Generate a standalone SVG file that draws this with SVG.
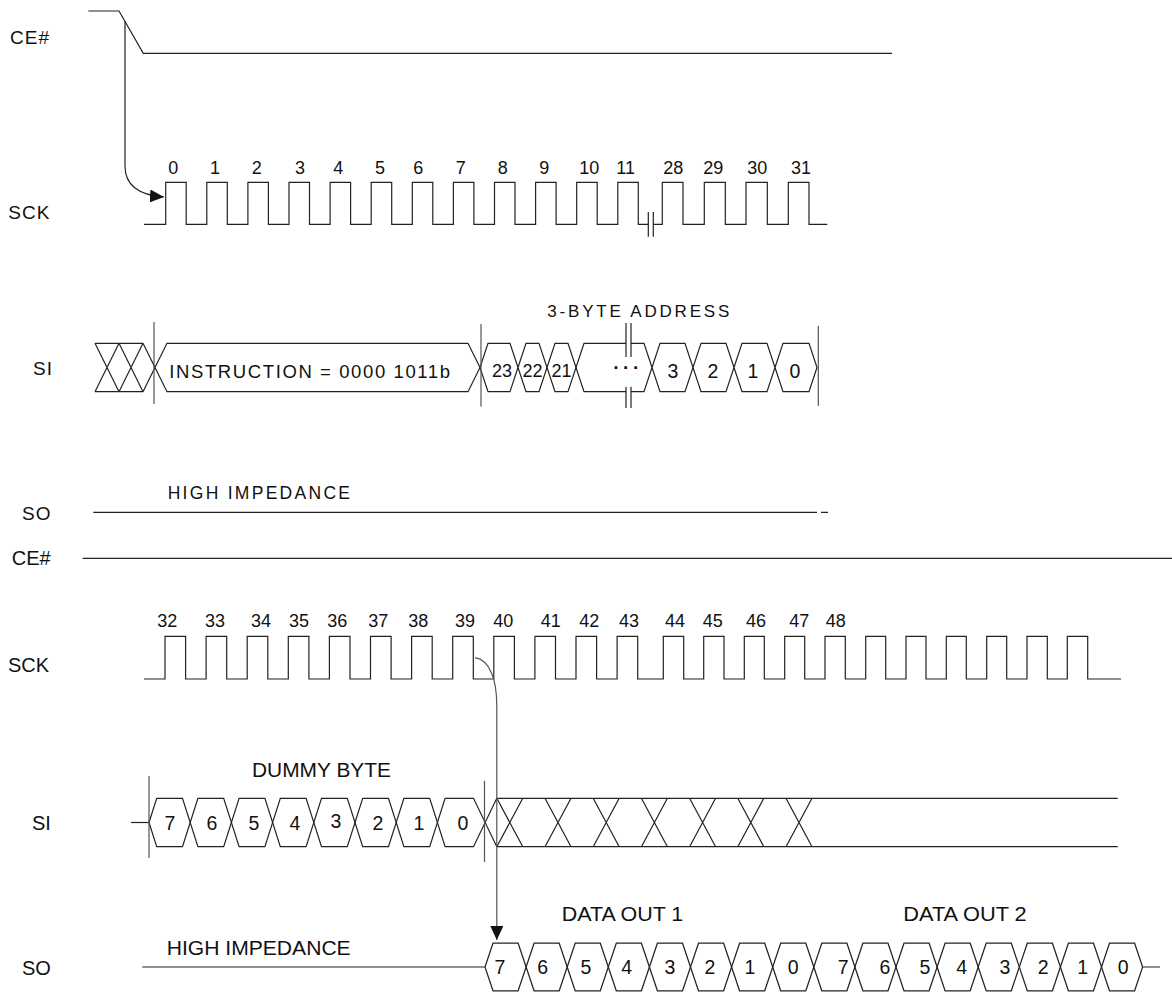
<svg xmlns="http://www.w3.org/2000/svg" width="1172" height="992" viewBox="0 0 1172 992">
<style>
.w{fill:none;stroke:#222;stroke-width:1.2}
.d{fill:none;stroke:#555;stroke-width:1.2}
.h{fill:#fff;stroke:#222;stroke-width:1.2}
text{font-family:"Liberation Sans",Arial,sans-serif;fill:#111}
.lt{font-size:19px;letter-spacing:1px}
.lb{font-size:20px}
.n{font-size:18px;text-anchor:middle}
.v{font-size:19.5px;text-anchor:middle}
.v2{font-size:18px;text-anchor:middle}
.tb{font-size:20px}
</style>
<defs>
<marker id="ah" viewBox="0 0 14 13" refX="14" refY="6.5" markerWidth="14" markerHeight="13" markerUnits="userSpaceOnUse" orient="auto"><path d="M0,0 L14,6.5 L0,13 Z" fill="#111"/></marker>
</defs>

<g id="ce-top">
<text class="lt" x="10" y="44.3">CE#</text>
<path class="w" d="M88.3,11 H119 L143.3,53.3 H892"/>
</g>

<g id="sck-top">
<text class="lt" x="8.3" y="219">SCK</text>
<path class="w" d="M144,224.3 H165.7 V182.3 H186.2 V224.3 H206.8 V182.3 H227.3 V224.3 H247.9 V182.3 H268.4 V224.3 H289 V182.3 H309.5 V224.3 H330.1 V182.3 H350.6 V224.3 H371.2 V182.3 H391.7 V224.3 H412.3 V182.3 H432.8 V224.3 H453.4 V182.3 H473.9 V224.3 H494.5 V182.3 H515 V224.3 H535.6 V182.3 H556.1 V224.3 H576.7 V182.3 H597.2 V224.3 H617.8 V182.3 H638.3 V224.3 H648.3 M653.3,224.3 H662.3 V182.3 H683 V224.3 H704.3 V182.3 H725.3 V224.3 H746 V182.3 H767.3 V224.3 H788.3 V182.3 H809 V224.3 H827.3"/>
<path class="w" d="M648.3,212 V236.7 M653.3,212 V236.7"/>
<text class="n" x="173.3" y="173.5">0</text>
<text class="n" x="215" y="173.5">1</text>
<text class="n" x="256.7" y="173.5">2</text>
<text class="n" x="300" y="173.5">3</text>
<text class="n" x="338.3" y="173.5">4</text>
<text class="n" x="380" y="173.5">5</text>
<text class="n" x="418.3" y="173.5">6</text>
<text class="n" x="460.7" y="173.5">7</text>
<text class="n" x="502.7" y="173.5">8</text>
<text class="n" x="544.3" y="173.5">9</text>
<text class="n" x="589.3" y="173.5">10</text>
<text class="n" x="625.7" y="173.5">11</text>
<text class="n" x="673.3" y="173.5">28</text>
<text class="n" x="713.3" y="173.5">29</text>
<text class="n" x="757.3" y="173.5">30</text>
<text class="n" x="801" y="173.5">31</text>
</g>

<g id="si-top">
<text class="lt" x="33" y="375">SI</text>
<path class="w" d="M95,343.3 H143 M95,391.7 H143 M95,343.3 L119,391.7 M95,391.7 L119,343.3 M119,343.3 L143,391.7 M119,391.7 L143,343.3 M143,343.3 L155,367.5 L143,391.7"/>
<polygon class="h" points="155,367.5 167,343.3 468,343.3 480,367.5 468,391.7 167,391.7"/>
<text x="169.3" y="378" style="font-size:18.5px" textLength="280.7" lengthAdjust="spacing">INSTRUCTION = 0000 1011b</text>
<polygon class="h" points="480,367.5 488,343.3 510,343.3 518,367.5 510,391.7 488,391.7"/>
<polygon class="h" points="518,367.5 526,343.3 539,343.3 547,367.5 539,391.7 526,391.7"/>
<polygon class="h" points="547,367.5 555,343.3 568,343.3 576,367.5 568,391.7 555,391.7"/>
<path class="w" d="M626,343.3 H584 L576,367.5 L584,391.7 H626 M631,343.3 H644 L652,367.5 L644,391.7 H631"/>
<path class="w" d="M626,323 V357 M631,323 V357 M626,386.7 V408 M631,386.7 V408"/>
<polygon class="h" points="652,367.5 660,343.3 685,343.3 693,367.5 685,391.7 660,391.7"/>
<polygon class="h" points="693,367.5 701,343.3 726,343.3 734,367.5 726,391.7 701,391.7"/>
<polygon class="h" points="734,367.5 742,343.3 767,343.3 775,367.5 767,391.7 742,391.7"/>
<polygon class="h" points="775,367.5 783,343.3 809,343.3 817,367.5 809,391.7 783,391.7"/>
<text class="v2" x="502" y="377">23</text>
<text class="v2" x="532.5" y="377">22</text>
<text class="v2" x="561.5" y="377">21</text>
<text x="628" y="374" style="font-size:19px;font-weight:bold;text-anchor:middle;letter-spacing:3.5px">···</text>
<text class="v" x="673" y="377.5">3</text>
<text class="v" x="713" y="377.5">2</text>
<text class="v" x="753" y="377.5">1</text>
<text class="v" x="795" y="377.5">0</text>
<path class="d" d="M154,322 V404 M481,324 V406.7 M818.3,326 V406"/>
<text x="547.3" y="317" style="font-size:17px" textLength="182" lengthAdjust="spacing">3-BYTE ADDRESS</text>
</g>

<g id="so-top">
<text class="lt" x="22" y="520">SO</text>
<text x="167.7" y="499.3" style="font-size:17.5px" textLength="182.3" lengthAdjust="spacing">HIGH IMPEDANCE</text>
<path class="w" d="M93.3,512.3 H817 M821,512.3 H828"/>
</g>

<g id="ce-bottom">
<text class="lb" x="11.7" y="565">CE#</text>
<path class="w" d="M82.7,558.3 H1172"/>
</g>

<g id="sck-bottom">
<text class="lb" x="8" y="672">SCK</text>
<path class="w" d="M144,679 H165 V636.3 H185.6 V679 H206.1 V636.3 H226.7 V679 H247.2 V636.3 H267.8 V679 H288.3 V636.3 H308.9 V679 H329.4 V636.3 H350 V679 H370.5 V636.3 H391.1 V679 H411.6 V636.3 H432.2 V679 H452.7 V636.3 H473.3 V679 H493.8 V636.3 H514.4 V679 H534.9 V636.3 H555.5 V679 H576 V636.3 H596.6 V679 H617.1 V636.3 H637.7 V679 H663.3 V636.3 H683.7 V679 H703.7 V636.3 H724 V679 H744.3 V636.3 H764.3 V679 H784.7 V636.3 H804.7 V679 H825 V636.3 H845.3 V679 H865.7 V636.3 H885.7 V679 H906 V636.3 H926 V679 H946.3 V636.3 H966.3 V679 H986.7 V636.3 H1006.7 V679 H1027 V636.3 H1047.3 V679 H1067.3 V636.3 H1087.7 V679 H1121"/>
<text class="n" x="167.3" y="627.3">32</text>
<text class="n" x="215" y="627.3">33</text>
<text class="n" x="261" y="627.3">34</text>
<text class="n" x="299" y="627.3">35</text>
<text class="n" x="337.3" y="627.3">36</text>
<text class="n" x="378.3" y="627.3">37</text>
<text class="n" x="418.3" y="627.3">38</text>
<text class="n" x="465" y="627.3">39</text>
<text class="n" x="503.3" y="627.3">40</text>
<text class="n" x="550.7" y="627.3">41</text>
<text class="n" x="589.3" y="627.3">42</text>
<text class="n" x="629" y="627.3">43</text>
<text class="n" x="675" y="627.3">44</text>
<text class="n" x="712.7" y="627.3">45</text>
<text class="n" x="756" y="627.3">46</text>
<text class="n" x="799.3" y="627.3">47</text>
<text class="n" x="835.7" y="627.3">48</text>
</g>

<g id="si-bottom">
<text class="lb" x="32" y="830">SI</text>
<text x="252" y="777.3" class="tb" textLength="139" lengthAdjust="spacingAndGlyphs">DUMMY BYTE</text>
<path class="w" d="M131,822.5 H149"/>
<path class="w" d="M149,822.5 L156.7,798.3 H182.5 L197.9,846.7 H223.7 L239.1,798.3 H264.9 L280.3,846.7 H306.1 L321.5,798.3 H347.3 L362.7,846.7 H388.5 L403.9,798.3 H429.7 L445.1,846.7 H473.5 L496.8,798.3 H1117.8"/>
<path class="w" d="M149,822.5 L156.7,846.7 H182.5 L197.9,798.3 H223.7 L239.1,846.7 H264.9 L280.3,798.3 H306.1 L321.5,846.7 H347.3 L362.7,798.3 H388.5 L403.9,846.7 H429.7 L445.1,798.3 H473.5 L496.8,846.7 H1117.8"/>
<path class="w" d="M496.8,798.3 L522.8,846.7 M496.8,846.7 L522.8,798.3 M545,798.3 L571,846.7 M545,846.7 L571,798.3 M593.2,798.3 L619.2,846.7 M593.2,846.7 L619.2,798.3 M641.4,798.3 L667.4,846.7 M641.4,846.7 L667.4,798.3 M689.6,798.3 L715.6,846.7 M689.6,846.7 L715.6,798.3 M737.8,798.3 L763.8,846.7 M737.8,846.7 L763.8,798.3 M786,798.3 L812,846.7 M786,846.7 L812,798.3"/>
<path class="d" d="M149,776 V858 M484.5,780.7 V862"/>
<text class="v" x="170" y="829.5">7</text>
<text class="v" x="212" y="829.5">6</text>
<text class="v" x="254" y="829.5">5</text>
<text class="v" x="295" y="829.5">4</text>
<text class="v" x="336" y="828">3</text>
<text class="v" x="378" y="829.5">2</text>
<text class="v" x="419" y="829.5">1</text>
<text class="v" x="463" y="829.5">0</text>
</g>

<g id="so-bottom">
<text class="lb" x="22" y="975">SO</text>
<text x="166.7" y="955" class="tb" textLength="184" lengthAdjust="spacingAndGlyphs">HIGH IMPEDANCE</text>
<text x="561.7" y="921" class="tb" textLength="121.6" lengthAdjust="spacingAndGlyphs">DATA OUT 1</text>
<text x="903.3" y="921" class="tb" textLength="123.4" lengthAdjust="spacingAndGlyphs">DATA OUT 2</text>
<path class="w" d="M142.3,967 H485"/>
<path class="w" d="M485,967 L493,943.2 H518.1 L534.1,990.8 H559.2 L575.2,943.2 H600.3 L616.3,990.8 H641.4 L657.4,943.2 H682.5 L698.5,990.8 H723.6 L739.6,943.2 H764.7 L780.7,990.8 H805.8 L821.8,943.2 H846.9 L862.9,990.8 H888 L904,943.2 H929.1 L945.1,990.8 H970.2 L986.2,943.2 H1011.3 L1027.3,990.8 H1052.4 L1068.4,943.2 H1093.5 L1109.5,990.8 H1134.6 L1142.6,967 H1160"/>
<path class="w" d="M485,967 L493,990.8 H518.1 L534.1,943.2 H559.2 L575.2,990.8 H600.3 L616.3,943.2 H641.4 L657.4,990.8 H682.5 L698.5,943.2 H723.6 L739.6,990.8 H764.7 L780.7,943.2 H805.8 L821.8,990.8 H846.9 L862.9,943.2 H888 L904,990.8 H929.1 L945.1,943.2 H970.2 L986.2,990.8 H1011.3 L1027.3,943.2 H1052.4 L1068.4,990.8 H1093.5 L1109.5,943.2 H1134.6 L1142.6,967"/>
<text class="v" x="500" y="974">7</text>
<text class="v" x="542.7" y="974">6</text>
<text class="v" x="586" y="974">5</text>
<text class="v" x="626.7" y="974">4</text>
<text class="v" x="670" y="974">3</text>
<text class="v" x="710" y="974">2</text>
<text class="v" x="750" y="974">1</text>
<text class="v" x="793.3" y="974">0</text>
<text class="v" x="843.3" y="974">7</text>
<text class="v" x="885" y="974">6</text>
<text class="v" x="925" y="974">5</text>
<text class="v" x="961.7" y="974">4</text>
<text class="v" x="1005" y="974">3</text>
<text class="v" x="1043.3" y="974">2</text>
<text class="v" x="1082.7" y="974">1</text>
<text class="v" x="1123.3" y="974">0</text>
</g>

<g id="connectors">
<path class="w" d="M125,21.4 V166 C125,184 136,195 164,197" marker-end="url(#ah)"/>
<path class="d" d="M475,657.7 C490,660 496.8,680 496.8,706 V940" marker-end="url(#ah)"/>
</g>
</svg>
